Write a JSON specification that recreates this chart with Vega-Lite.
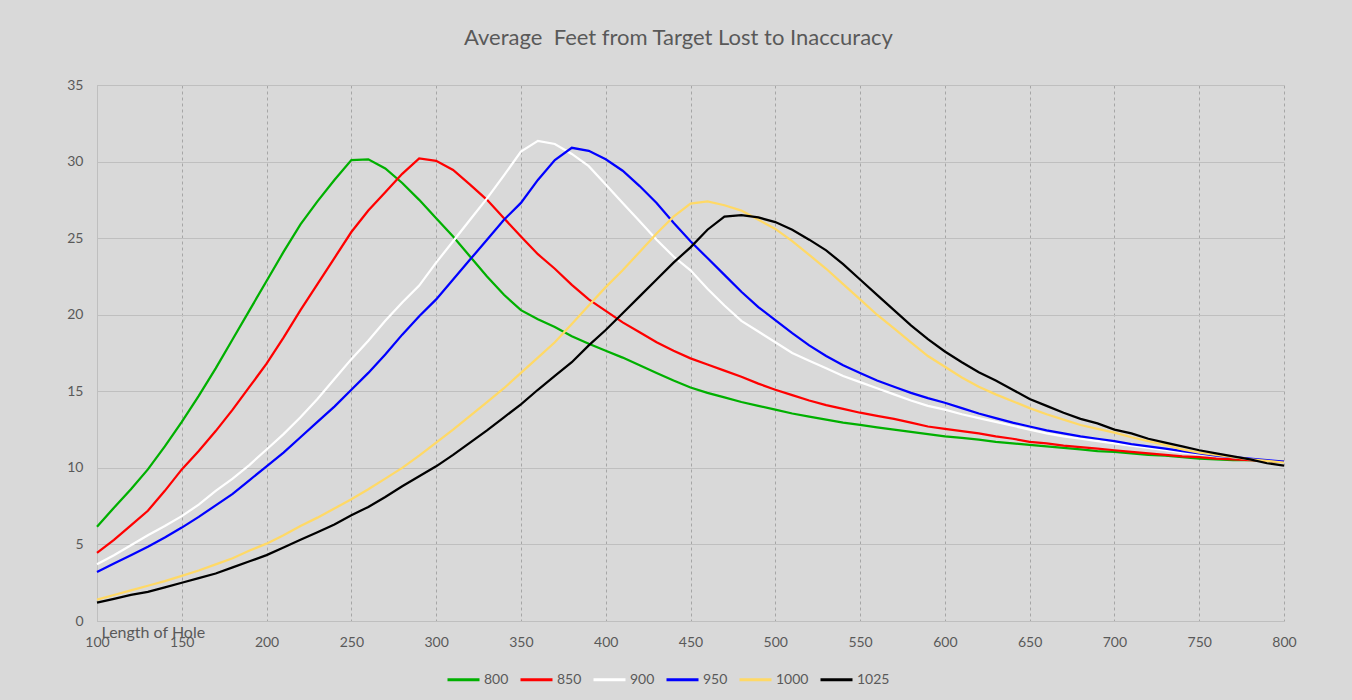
{
  "$schema": "https://vega.github.io/schema/vega-lite/v6.json",
  "width": 1187,
  "height": 536,
  "autosize": {"type": "none"},
  "padding": {"left": 97, "top": 85, "right": 68, "bottom": 79},
  "background": "#d9d9d9",
  "title": {"text": "Average \u00a0Feet from Target Lost to Inaccuracy", "font": "Lato", "fontSize": 22, "fontWeight": "normal", "color": "#595959", "offset": 28, "dx": -12},
  "config": {
    "view": {"stroke": null},
    "axis": {"labelFont": "Lato", "labelFontSize": 14, "labelColor": "#595959", "ticks": false, "domainColor": "#bfbfbf", "domainWidth": 1, "labelFlush": false}
  },
  "data": {"values": [
    {"len":100,"800":6.15,"850":4.45,"900":3.7,"950":3.2,"1000":1.4,"1025":1.2},
    {"len":110,"800":7.4,"850":5.3,"900":4.3,"950":3.75,"1000":1.7,"1025":1.45},
    {"len":120,"800":8.6,"850":6.25,"900":4.95,"950":4.3,"1000":2.0,"1025":1.7},
    {"len":130,"800":9.9,"850":7.2,"900":5.6,"950":4.85,"1000":2.3,"1025":1.9},
    {"len":140,"800":11.4,"850":8.5,"900":6.2,"950":5.45,"1000":2.6,"1025":2.2},
    {"len":150,"800":13.0,"850":9.9,"900":6.85,"950":6.1,"1000":2.95,"1025":2.5},
    {"len":160,"800":14.7,"850":11.1,"900":7.6,"950":6.8,"1000":3.3,"1025":2.8},
    {"len":170,"800":16.5,"850":12.4,"900":8.5,"950":7.55,"1000":3.7,"1025":3.1},
    {"len":180,"800":18.4,"850":13.8,"900":9.3,"950":8.3,"1000":4.1,"1025":3.5},
    {"len":190,"800":20.3,"850":15.3,"900":10.2,"950":9.2,"1000":4.6,"1025":3.9},
    {"len":200,"800":22.2,"850":16.8,"900":11.2,"950":10.1,"1000":5.05,"1025":4.3},
    {"len":210,"800":24.1,"850":18.5,"900":12.2,"950":11.0,"1000":5.6,"1025":4.8},
    {"len":220,"800":25.9,"850":20.3,"900":13.3,"950":12.0,"1000":6.2,"1025":5.3},
    {"len":230,"800":27.4,"850":22.0,"900":14.5,"950":13.0,"1000":6.75,"1025":5.8},
    {"len":240,"800":28.8,"850":23.7,"900":15.8,"950":14.0,"1000":7.35,"1025":6.3},
    {"len":250,"800":30.1,"850":25.4,"900":17.1,"950":15.1,"1000":7.95,"1025":6.9},
    {"len":260,"800":30.15,"850":26.8,"900":18.3,"950":16.2,"1000":8.6,"1025":7.45},
    {"len":270,"800":29.55,"850":28.0,"900":19.6,"950":17.4,"1000":9.3,"1025":8.1},
    {"len":280,"800":28.6,"850":29.2,"900":20.8,"950":18.7,"1000":10.0,"1025":8.8},
    {"len":290,"800":27.5,"850":30.2,"900":21.9,"950":19.9,"1000":10.8,"1025":9.45},
    {"len":300,"800":26.3,"850":30.05,"900":23.4,"950":21.0,"1000":11.65,"1025":10.1},
    {"len":310,"800":25.1,"850":29.45,"900":24.8,"950":22.3,"1000":12.5,"1025":10.85},
    {"len":320,"800":23.8,"850":28.5,"900":26.2,"950":23.6,"1000":13.4,"1025":11.65},
    {"len":330,"800":22.5,"850":27.5,"900":27.6,"950":24.9,"1000":14.3,"1025":12.45},
    {"len":340,"800":21.3,"850":26.3,"900":29.1,"950":26.2,"1000":15.2,"1025":13.3},
    {"len":350,"800":20.3,"850":25.1,"900":30.65,"950":27.3,"1000":16.2,"1025":14.15},
    {"len":360,"800":19.7,"850":23.95,"900":31.35,"950":28.8,"1000":17.2,"1025":15.1},
    {"len":370,"800":19.2,"850":23.0,"900":31.15,"950":30.1,"1000":18.2,"1025":16.0},
    {"len":380,"800":18.6,"850":21.95,"900":30.5,"950":30.9,"1000":19.4,"1025":16.9},
    {"len":390,"800":18.1,"850":21.0,"900":29.7,"950":30.7,"1000":20.6,"1025":18.0},
    {"len":400,"800":17.65,"850":20.25,"900":28.5,"950":30.15,"1000":21.8,"1025":19.0},
    {"len":410,"800":17.2,"850":19.5,"900":27.3,"950":29.4,"1000":22.9,"1025":20.1},
    {"len":420,"800":16.7,"850":18.85,"900":26.1,"950":28.4,"1000":24.1,"1025":21.2},
    {"len":430,"800":16.2,"850":18.2,"900":24.9,"950":27.3,"1000":25.3,"1025":22.3},
    {"len":440,"800":15.7,"850":17.65,"900":23.8,"950":26.0,"1000":26.4,"1025":23.4},
    {"len":450,"800":15.25,"850":17.15,"900":22.9,"950":24.8,"1000":27.25,"1025":24.4},
    {"len":460,"800":14.9,"850":16.75,"900":21.7,"950":23.7,"1000":27.4,"1025":25.55},
    {"len":470,"800":14.6,"850":16.35,"900":20.6,"950":22.6,"1000":27.15,"1025":26.4},
    {"len":480,"800":14.3,"850":15.95,"900":19.6,"950":21.5,"1000":26.8,"1025":26.5},
    {"len":490,"800":14.05,"850":15.5,"900":18.9,"950":20.5,"1000":26.2,"1025":26.35},
    {"len":500,"800":13.8,"850":15.1,"900":18.2,"950":19.65,"1000":25.6,"1025":26.05},
    {"len":510,"800":13.55,"850":14.75,"900":17.5,"950":18.8,"1000":24.8,"1025":25.55},
    {"len":520,"800":13.35,"850":14.4,"900":17.0,"950":18.0,"1000":23.9,"1025":24.9},
    {"len":530,"800":13.15,"850":14.1,"900":16.5,"950":17.3,"1000":23.0,"1025":24.2},
    {"len":540,"800":12.95,"850":13.85,"900":16.0,"950":16.7,"1000":22.0,"1025":23.3},
    {"len":550,"800":12.8,"850":13.6,"900":15.6,"950":16.2,"1000":21.0,"1025":22.3},
    {"len":560,"800":12.65,"850":13.4,"900":15.2,"950":15.7,"1000":20.0,"1025":21.3},
    {"len":570,"800":12.5,"850":13.2,"900":14.8,"950":15.3,"1000":19.1,"1025":20.3},
    {"len":580,"800":12.35,"850":12.95,"900":14.4,"950":14.9,"1000":18.2,"1025":19.3},
    {"len":590,"800":12.2,"850":12.7,"900":14.05,"950":14.55,"1000":17.3,"1025":18.4},
    {"len":600,"800":12.05,"850":12.55,"900":13.8,"950":14.25,"1000":16.6,"1025":17.6},
    {"len":610,"800":11.95,"850":12.4,"900":13.5,"950":13.9,"1000":15.9,"1025":16.9},
    {"len":620,"800":11.85,"850":12.25,"900":13.25,"950":13.55,"1000":15.3,"1025":16.25},
    {"len":630,"800":11.7,"850":12.05,"900":13.0,"950":13.25,"1000":14.8,"1025":15.7},
    {"len":640,"800":11.6,"850":11.9,"900":12.75,"950":12.95,"1000":14.35,"1025":15.1},
    {"len":650,"800":11.5,"850":11.7,"900":12.5,"950":12.7,"1000":13.9,"1025":14.5},
    {"len":660,"800":11.4,"850":11.6,"900":12.25,"950":12.45,"1000":13.5,"1025":14.05},
    {"len":670,"800":11.3,"850":11.45,"900":12.05,"950":12.25,"1000":13.15,"1025":13.6},
    {"len":680,"800":11.2,"850":11.35,"900":11.9,"950":12.05,"1000":12.8,"1025":13.2},
    {"len":690,"800":11.1,"850":11.25,"900":11.75,"950":11.9,"1000":12.55,"1025":12.9},
    {"len":700,"800":11.05,"850":11.15,"900":11.6,"950":11.75,"1000":12.3,"1025":12.5},
    {"len":710,"800":10.95,"850":11.05,"900":11.45,"950":11.55,"1000":12.0,"1025":12.25},
    {"len":720,"800":10.85,"850":10.95,"900":11.3,"950":11.4,"1000":11.75,"1025":11.9},
    {"len":730,"800":10.8,"850":10.85,"900":11.15,"950":11.25,"1000":11.5,"1025":11.65},
    {"len":740,"800":10.7,"850":10.75,"900":11.0,"950":11.1,"1000":11.2,"1025":11.4},
    {"len":750,"800":10.6,"850":10.7,"900":10.9,"950":10.95,"1000":11.0,"1025":11.15},
    {"len":760,"800":10.55,"850":10.6,"900":10.8,"950":10.8,"1000":10.85,"1025":10.95},
    {"len":770,"800":10.5,"850":10.55,"900":10.7,"950":10.7,"1000":10.7,"1025":10.75},
    {"len":780,"800":10.5,"850":10.5,"900":10.6,"950":10.6,"1000":10.55,"1025":10.55},
    {"len":790,"800":10.45,"850":10.45,"900":10.5,"950":10.5,"1000":10.45,"1025":10.3},
    {"len":800,"800":10.4,"850":10.4,"900":10.4,"950":10.4,"1000":10.35,"1025":10.15}
  ]},
  "transform": [{"fold": ["800", "850", "900", "950", "1000", "1025"], "as": ["series", "feet"]}],
  "mark": {"type": "line", "strokeWidth": 2.25},
  "encoding": {
    "x": {
      "field": "len", "type": "quantitative",
      "scale": {"domain": [100, 800], "nice": false, "zero": false},
      "axis": {
        "values": [100, 150, 200, 250, 300, 350, 400, 450, 500, 550, 600, 650, 700, 750, 800],
        "grid": true, "gridDash": [3, 3], "gridColor": "#a6a6a6", "gridWidth": 1,
        "labelPadding": 14,
        "title": "Length of Hole", "titleFont": "Lato", "titleFontSize": 16, "titleFontWeight": "normal", "titleColor": "#595959",
        "titleAnchor": "start", "titleAlign": "left", "titleBaseline": "alphabetic", "titleX": 4, "titleY": 16
      }
    },
    "y": {
      "field": "feet", "type": "quantitative",
      "scale": {"domain": [0, 35], "nice": false},
      "axis": {
        "values": [0, 5, 10, 15, 20, 25, 30, 35],
        "grid": true, "gridColor": "#bfbfbf", "gridWidth": 1,
        "labelPadding": 14, "title": null
      }
    },
    "color": {
      "field": "series", "type": "nominal",
      "scale": {"domain": ["800", "850", "900", "950", "1000", "1025"], "range": ["#00b000", "#ff0000", "#ffffff", "#0000ff", "#ffd966", "#000000"]},
      "legend": {
        "orient": "none", "direction": "horizontal", "legendX": 349, "legendY": 577,
        "title": null, "padding": 0,
        "symbolType": "stroke", "symbolSize": 1024, "symbolStrokeWidth": 3,
        "labelFont": "Lato", "labelFontSize": 14, "labelColor": "#595959", "labelOffset": 3, "columnPadding": 5
      }
    }
  }
}
